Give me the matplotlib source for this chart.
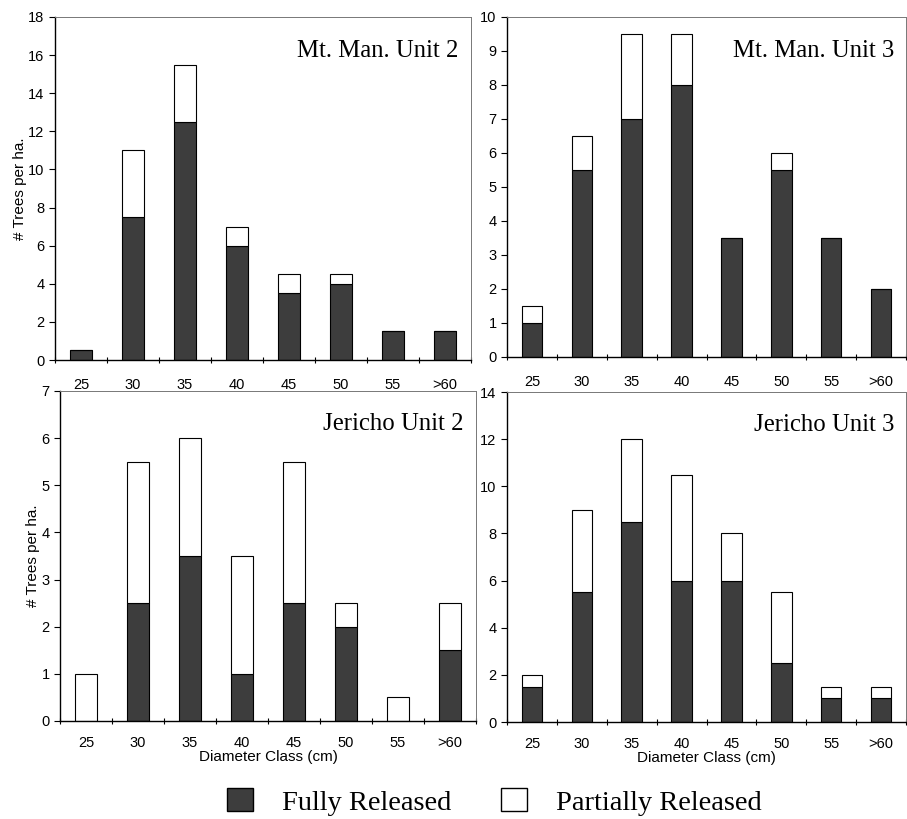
import matplotlib
matplotlib.use("Agg")
import matplotlib.pyplot as plt
from matplotlib.patches import Patch
import numpy as np

categories = ["25", "30", "35", "40", "45", "50", "55", ">60"]

mm2_full = [0.5, 7.5, 12.5, 6, 3.5, 4, 1.5, 1.5]
mm2_part = [0, 3.5, 3, 1, 1, 0.5, 0, 0]

mm3_full = [1, 5.5, 7, 8, 3.5, 5.5, 3.5, 2]
mm3_part = [0.5, 1, 2.5, 1.5, 0, 0.5, 0, 0]

je2_full = [0, 2.5, 3.5, 1, 2.5, 2, 0, 1.5]
je2_part = [1, 3, 2.5, 2.5, 3, 0.5, 0.5, 1]

je3_full = [1.5, 5.5, 8.5, 6, 6, 2.5, 1, 1]
je3_part = [0.5, 3.5, 3.5, 4.5, 2, 3, 0.5, 0.5]

titles = ["Mt. Man. Unit 2", "Mt. Man. Unit 3", "Jericho Unit 2", "Jericho Unit 3"]
ymax = [18, 10, 7, 14]
ystep = [2, 1, 1, 2]

W, H = 907, 819
fig = plt.figure(figsize=(W / 100, H / 100), dpi=100)

def rect(l, r, t, b):
    return [l / W, (H - b) / H, (r - l) / W, (b - t) / H]

rects = [rect(55, 471, 17, 360), rect(507, 906, 17, 357),
         rect(60, 476, 391, 721), rect(507, 906, 392, 722)]
data = [(mm2_full, mm2_part), (mm3_full, mm3_part),
        (je2_full, je2_part), (je3_full, je3_part)]

dark = "#3d3d3d"
sans = ["Liberation Sans", "DejaVu Sans"]
serif = ["Liberation Serif", "DejaVu Serif"]

for i, (r, (full, part)) in enumerate(zip(rects, data)):
    ax = fig.add_axes(r)
    x = np.arange(len(categories))
    full = np.array(full); part = np.array(part)
    ax.bar(x, full, width=0.41, color=dark, edgecolor="black", linewidth=0.8)
    ax.bar(x, part, width=0.41, bottom=full, color="white", edgecolor="black",
           linewidth=0.8)
    ax.set_xlim(-0.5, 7.5)
    ax.set_ylim(0, ymax[i])
    ax.set_yticks(np.arange(0, ymax[i] + 0.01, ystep[i]))
    ax.set_xticks(x)
    ax.set_xticklabels(categories, family=sans, fontsize=10.5)
    ax.set_xticks(np.arange(-0.5, 8, 1), minor=True)
    ax.tick_params(axis="x", which="major", length=0, pad=13 if i < 2 else 11)
    ax.tick_params(axis="x", which="minor", length=5, direction="inout", width=0.8)
    ax.tick_params(axis="y", length=4, width=0.8, direction="out", labelsize=10.5)
    for lab in ax.get_yticklabels():
        lab.set_family(sans)
    for s in ["left", "bottom"]:
        ax.spines[s].set_color("black"); ax.spines[s].set_linewidth(1.0)
    for s in ["top", "right"]:
        ax.spines[s].set_color("#777777"); ax.spines[s].set_linewidth(0.7)
        ax.spines[s].set_linestyle((0, (2, 1)))
    ax.text(0.97, 0.9, titles[i], transform=ax.transAxes, ha="right", va="center",
            family=serif, fontsize=17.8)
    if i in (0, 2):
        ax.set_ylabel("# Trees per ha.", family=sans, fontsize=11, labelpad=1)
    if i in (2, 3):
        ax.set_xlabel("Diameter Class (cm)", family=sans, fontsize=11, labelpad=0)

handles = [Patch(facecolor=dark, edgecolor="black", label="Fully Released"),
           Patch(facecolor="white", edgecolor="black", label="Partially Released")]
fig.legend(handles=handles, loc="center left", bbox_to_anchor=(227 / W, 1 - 802 / H),
           ncol=2, frameon=False, prop={"family": serif, "size": 20.5},
           handlelength=0.92, handleheight=0.85, columnspacing=1.75,
           handletextpad=1.0, borderpad=0, borderaxespad=0)

fig.savefig("out.png", dpi=100)
